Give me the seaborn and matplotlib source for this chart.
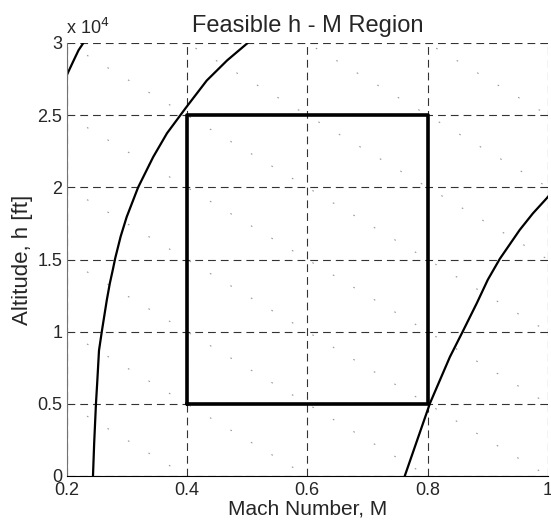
import matplotlib
matplotlib.use("Agg")
import matplotlib.pyplot as plt
import seaborn as sns
import pandas as pd

# ---- data ----
left_M = [0.244, 0.246, 0.249, 0.251, 0.254, 0.259, 0.267, 0.272, 0.277, 0.281, 0.290, 0.300,
          0.319, 0.344, 0.367, 0.399, 0.433, 0.467, 0.501]
left_h = [0, 2300, 5050, 6450, 8700, 10100, 12200, 13350, 14300, 15100, 16600, 17950,
          20000, 22100, 23750, 25550, 27400, 28800, 30000]

corner_M = [0.190, 0.203, 0.212, 0.220, 0.228]
corner_h = [26800, 28000, 28800, 29500, 30000]

right_M = [0.762, 0.804, 0.837, 0.857, 0.882, 0.900, 0.920, 0.953, 0.975, 0.998, 1.005]
right_h = [0, 5050, 8250, 9900, 12000, 13600, 15050, 17050, 18200, 19250, 19600]

box_M = [0.4, 0.8, 0.8, 0.4, 0.4]
box_h = [5000, 5000, 25000, 25000, 5000]

dot_M = [0.2, 1.0]
dot_h_start = [5000, 10000, 15000, 20000, 25000, 30000, 35000, 40000, 45000]
dot_h_end = [-15000, -10000, -5000, 0, 5000, 10000, 15000, 20000, 25000]

x_ticks = [0.2, 0.4, 0.6, 0.8, 1.0]
x_tick_labels = ["0.2", "0.4", "0.6", "0.8", "1"]
y_ticks = [0, 5000, 10000, 15000, 20000, 25000, 30000]
y_tick_labels = ["0", "0.5", "1", "1.5", "2", "2.5", "3"]

title = "Feasible h - M Region"
xlabel = "Mach Number, M"
ylabel = "Altitude, h [ft]"

# ---- style ----
sns.set_theme(style="white")
plt.rcParams["font.family"] = ["Liberation Sans", "DejaVu Sans"]
plt.rcParams["xtick.direction"] = "in"
plt.rcParams["ytick.direction"] = "in"

fig = plt.figure(figsize=(5.51, 5.26), dpi=100)
ax = fig.add_axes([66.5 / 551, 1 - 476 / 526, (548 - 66.5) / 551, (476 - 43) / 526])

# sparse dotted lines
for hs, he in zip(dot_h_start, dot_h_end):
    d = pd.DataFrame({"M": dot_M, "h": [hs, he]})
    sns.lineplot(data=d, x="M", y="h", ax=ax, color="0.6", lw=0.8,
                 estimator=None, sort=False, dashes=False,
                 linestyle=(0, (1.5, 20)))

# boundary curves
for mx, hy in [(left_M, left_h), (corner_M, corner_h), (right_M, right_h)]:
    d = pd.DataFrame({"M": mx, "h": hy})
    sns.lineplot(data=d, x="M", y="h", ax=ax, color="black", lw=1.6,
                 estimator=None, sort=False)

# feasible box
d = pd.DataFrame({"M": box_M, "h": box_h})
sns.lineplot(data=d, x="M", y="h", ax=ax, color="black", lw=2.6,
             estimator=None, sort=False)

ax.set_xlim(0.2, 1.0)
ax.set_ylim(0, 30000)
ax.set_xticks(x_ticks)
ax.set_xticklabels(x_tick_labels)
ax.set_yticks(y_ticks)
ax.set_yticklabels(y_tick_labels)
ax.tick_params(axis="both", labelsize=13, length=4, width=0.8, color="black", pad=4)
ax.tick_params(axis="y", pad=3)

ax.grid(True, color="0.2", lw=0.8, linestyle=(0, (7, 4.5)))
ax.set_axisbelow(True)

for s in ["top", "right"]:
    ax.spines[s].set_visible(False)
ax.spines["left"].set_color("0.45")
ax.spines["left"].set_linewidth(0.8)
ax.spines["bottom"].set_color("black")
ax.spines["bottom"].set_linewidth(0.8)

ax.set_title(title, fontsize=17, pad=8)
ax.set_xlabel(xlabel, fontsize=15, labelpad=1)
ax.set_ylabel(ylabel, fontsize=16, labelpad=3)

ax.text(0.0, 1.012, r"x 10$^{4}$", transform=ax.transAxes, fontsize=13,
        ha="left", va="bottom")

fig.savefig("out.png", dpi=100)
